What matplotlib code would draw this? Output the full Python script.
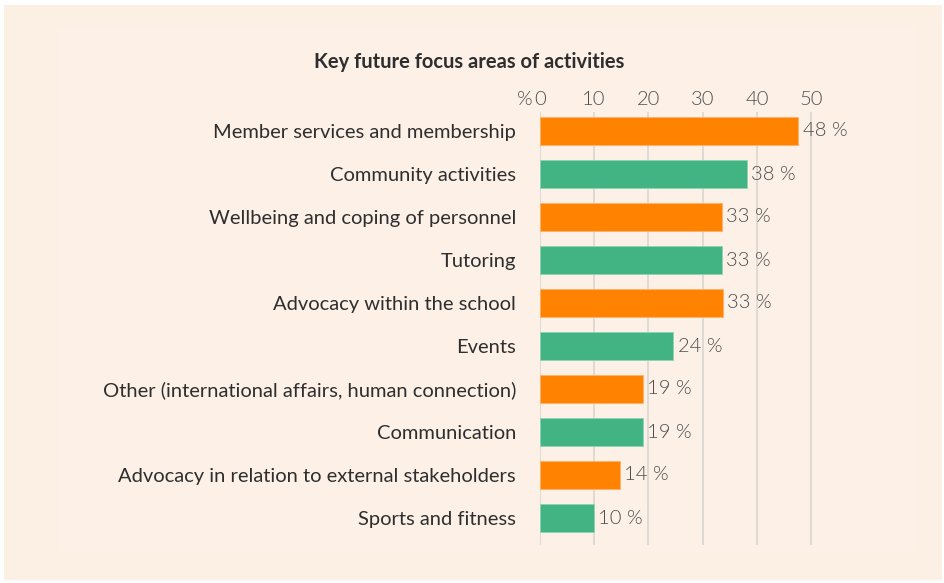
import matplotlib
matplotlib.use("Agg")
import matplotlib.pyplot as plt
from matplotlib.patches import Rectangle
import matplotlib.transforms as mtransforms

categories = [
    "Member services and membership",
    "Community activities",
    "Wellbeing and coping of personnel",
    "Tutoring",
    "Advocacy within the school",
    "Events",
    "Other (international affairs, human connection)",
    "Communication",
    "Advocacy in relation to external stakeholders",
    "Sports and fitness",
]
values = [47.6, 38.1, 33.6, 33.6, 33.7, 24.6, 19.0, 19.0, 14.8, 10.0]
value_labels = ["48 %", "38 %", "33 %", "33 %", "33 %", "24 %", "19 %", "19 %", "14 %", "10 %"]
ticks = [0, 10, 20, 30, 40, 50]
tick_labels = ["0", "10", "20", "30", "40", "50"]
title = "Key future focus areas of activities"

ORANGE = "#FF8200"
GREEN = "#42B383"
colors = [ORANGE if i % 2 == 0 else GREEN for i in range(len(categories))]

W, H = 945, 583
fig = plt.figure(figsize=(W / 100, H / 100), dpi=100)
fig.patch.set_facecolor("white")
fig.patches.append(Rectangle((4 / W, 1 - 580 / H), (942 - 4) / W, (580 - 5) / H,
                             transform=fig.transFigure, facecolor="#FCF0E5",
                             edgecolor="none", zorder=-10))
fig.patches.append(Rectangle((58 / W, 1 - 552 / H), (915 - 58) / W, (552 - 28) / H,
                             transform=fig.transFigure, facecolor="#FDF0E6",
                             edgecolor="none", zorder=-9))

x0px = 539.7
unit = 5.43
xmax = 60
left = x0px / W
width = xmax * unit / W
top_px, bot_px = 112, 545
ax = fig.add_axes([left, 1 - bot_px / H, width, (bot_px - top_px) / H])
ax.set_facecolor("none")
ax.set_zorder(1)

y = list(range(len(categories)))
spacing = 43.0
ax.set_ylim((bot_px - 131) / spacing, (top_px - 131) / spacing)
ax.set_xlim(0, xmax)

for t in ticks:
    ax.axvline(t, color="#DDD8D3", lw=1.3, zorder=0)

ax.barh(y, values, height=0.63, color=colors,
        edgecolor=["#FFB26A" if c == ORANGE else "#8FD3B5" for c in colors],
        linewidth=0.6, zorder=2)

FS = 14.5
for yi, v, lab in zip(y, values, value_labels):
    ax.text(v + 0.8, yi, lab, va="center", ha="left", fontsize=FS,
            family="Lato", fontweight=300, color="#4d4d4d", zorder=3)

ax.set_yticks(y)
ax.set_yticklabels(categories, fontsize=FS, family="Lato", color="#2e2e2e")
ax.tick_params(axis="y", length=0, pad=17)

ax.xaxis.tick_top()
ax.set_xticks(ticks)
ax.set_xticklabels(tick_labels, fontsize=FS, family="Lato", fontweight=300, color="#4d4d4d")
ax.tick_params(axis="x", length=0, pad=3)
ax.annotate("%", xy=(-1.3, 1.0),
            xycoords=mtransforms.blended_transform_factory(ax.transData, ax.transAxes),
            xytext=(0, 3), textcoords="offset points",
            ha="right", va="bottom", fontsize=FS, family="Lato", fontweight=300,
            color="#4d4d4d", annotation_clip=False)

for s in ax.spines.values():
    s.set_visible(False)

fig.text(469 / W, 1 - 62 / H, title, ha="center", va="center", fontsize=14.5,
         family="Lato", fontweight="bold", color="#2e2e2e")

fig.savefig("out.png", dpi=100, facecolor=fig.get_facecolor())
